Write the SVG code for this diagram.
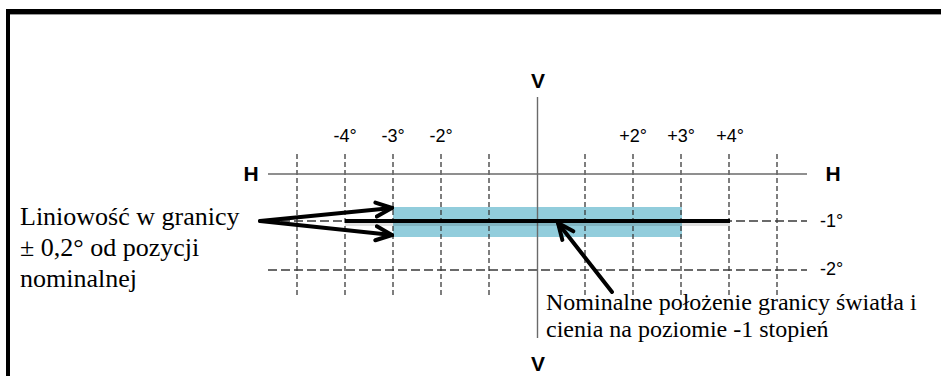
<svg xmlns="http://www.w3.org/2000/svg" width="941" height="376" viewBox="0 0 941 376">
<defs>
<style>
.grid{stroke:#3a3a3a;stroke-width:1.3;stroke-dasharray:5 3;fill:none}
.hgrid{stroke:#3a3a3a;stroke-width:1.3;stroke-dasharray:9 4;fill:none}
.axis{stroke:#6a6a6a;stroke-width:1.4;fill:none}
.lbl{font-family:"Liberation Sans",Arial,sans-serif;font-size:18px;fill:#000;text-anchor:middle}
.ax{font-family:"Liberation Sans",Arial,sans-serif;font-size:21px;font-weight:bold;fill:#000;text-anchor:middle}
.tm{font-family:"Liberation Serif","Times New Roman",serif;fill:#000}
.arr{stroke:#000;stroke-width:4;fill:none;stroke-linecap:round}
</style>
<marker id="chev" viewBox="0 0 20 20" refX="18" refY="10" markerWidth="20" markerHeight="20" markerUnits="userSpaceOnUse" orient="auto">
<path d="M2,3 L18,10 L2,17" fill="none" stroke="#000" stroke-width="4" stroke-linecap="round" stroke-linejoin="miter"/>
</marker>
</defs>
<rect width="941" height="376" fill="#fff"/>
<g id="frame">
<rect x="6" y="9" width="935" height="5" fill="#000"/>
<line x1="10" y1="14.5" x2="941" y2="14.5" stroke="#999" stroke-width="1"/>
<rect x="6" y="9" width="4" height="367" fill="#000"/>
</g>
<g id="band">
<rect x="393" y="207" width="289" height="30" fill="#92cddc"/>
</g>
<g id="grid">
<line class="grid" x1="297" y1="154" x2="297" y2="297"/>
<line class="grid" x1="345" y1="154" x2="345" y2="297"/>
<line class="grid" x1="393" y1="154" x2="393" y2="297"/>
<line class="grid" x1="441" y1="154" x2="441" y2="297"/>
<line class="grid" x1="489" y1="154" x2="489" y2="297"/>
<line class="grid" x1="585" y1="154" x2="585" y2="297"/>
<line class="grid" x1="633" y1="154" x2="633" y2="297"/>
<line class="grid" x1="681" y1="154" x2="681" y2="297"/>
<line class="grid" x1="729" y1="154" x2="729" y2="297"/>
<line class="grid" x1="777" y1="154" x2="777" y2="297"/>
<line class="hgrid" x1="268" y1="221" x2="807" y2="221"/>
<line class="hgrid" x1="268" y1="270" x2="807" y2="270"/>
<line class="axis" x1="268" y1="174" x2="807" y2="174"/>
<line class="axis" x1="537.5" y1="97" x2="537.5" y2="338"/>
</g>
<g id="cutoff">
<rect x="345" y="223" width="385" height="3" fill="#000" opacity="0.12"/>
<line x1="345" y1="221" x2="730" y2="221" stroke="#000" stroke-width="4"/>
</g>
<g id="labels">
<text class="ax" x="538" y="88">V</text>
<text class="ax" x="538" y="371">V</text>
<text class="ax" x="251" y="181">H</text>
<text class="ax" x="833" y="181">H</text>
<text class="lbl" x="345" y="142">-4°</text>
<text class="lbl" x="393" y="142">-3°</text>
<text class="lbl" x="441" y="142">-2°</text>
<text class="lbl" x="633" y="142">+2°</text>
<text class="lbl" x="681" y="142">+3°</text>
<text class="lbl" x="730" y="142">+4°</text>
<text class="lbl" x="820" y="227" style="text-anchor:start">-1°</text>
<text class="lbl" x="820" y="275" style="text-anchor:start">-2°</text>
</g>
<g id="note-left">
<text class="tm" font-size="26" x="20" y="225">Liniowość w granicy</text>
<text class="tm" font-size="26" x="20" y="256">± 0,2° od pozycji</text>
<text class="tm" font-size="26" x="20" y="287">nominalnej</text>
</g>
<g id="note-bottom">
<text class="tm" font-size="24" x="546" y="310">Nominalne położenie granicy światła i</text>
<text class="tm" font-size="24" x="546" y="337">cienia na poziomie -1 stopień</text>
</g>
<g id="connectors">
<line class="arr" x1="260" y1="221" x2="392" y2="208" marker-end="url(#chev)"/>
<line class="arr" x1="260" y1="221" x2="392" y2="235" marker-end="url(#chev)"/>
<line class="arr" x1="612" y1="292" x2="558" y2="223" marker-end="url(#chev)"/>
</g>
</svg>
